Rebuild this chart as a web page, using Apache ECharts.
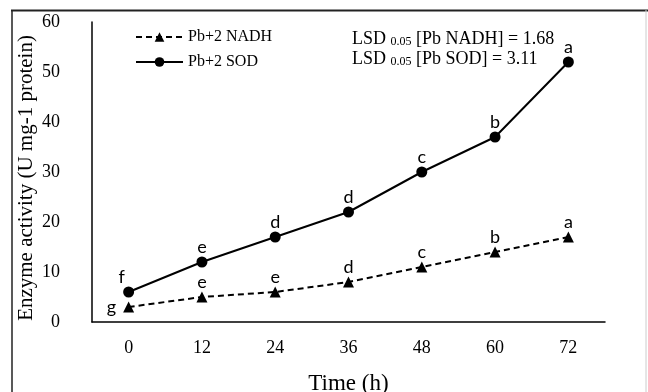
<!DOCTYPE html>
<html>
<head>
<meta charset="utf-8">
<script src="https://cdn.jsdelivr.net/npm/echarts@6/dist/echarts.min.js"></script>
<style>html,body{margin:0;padding:0;background:#fff;}#c{width:648px;height:392px;}</style>
</head>
<body>
<div id="c"></div>
<script>
var categories = ['0', '12', '24', '36', '48', '60', '72'];
var nadhValues = [3, 5, 6, 8, 11, 14, 17];
var sodValues = [6, 12, 17, 22, 30, 37, 52];
var nadhLetters = ['g', 'e', 'e', 'd', 'c', 'b', 'a'];
var sodLetters = ['f', 'e', 'd', 'd', 'c', 'b', 'a'];
var yTicks = [0, 10, 20, 30, 40, 50, 60];

var serif = '"Liberation Serif", "Times New Roman", serif';
var sans = 'Lato, "Open Sans", sans-serif';

function buildData(vals, letters, firstPos) {
  return vals.map(function (v, i) {
    var pos = (i === 0) ? firstPos : 'top';
    var lab = { show: true, formatter: letters[i], position: pos, distance: 0 };
    if (i === 0 && firstPos === 'top') lab.offset = [-7, 0];
    if (i === 0 && firstPos === 'left') lab.distance = 7;
    return { value: v, label: lab };
  });
}

var chart = echarts.init(document.getElementById('c'));
chart.setOption({
  animation: false,
  backgroundColor: '#fff',
  grid: { left: 92, right: 43, top: 22, bottom: 70, outerBoundsMode: 'none' },
  legend: {
    left: 130, top: 24, orient: 'vertical', itemGap: 9,
    itemWidth: 47, itemHeight: 12,
    textStyle: { fontFamily: serif, fontSize: 16, color: '#000' },
    data: ['Pb+2 NADH', 'Pb+2 SOD']
  },
  xAxis: {
    type: 'category', data: categories, boundaryGap: true,
    name: 'Time (h)', nameLocation: 'middle', nameGap: 50,
    nameTextStyle: { fontFamily: serif, fontSize: 23, color: '#000' },
    axisLine: { lineStyle: { color: '#000', width: 1.5 } },
    axisTick: { show: false },
    axisLabel: { fontFamily: serif, fontSize: 18, color: '#000', margin: 17 }
  },
  yAxis: {
    type: 'value', min: yTicks[0], max: yTicks[yTicks.length - 1], interval: 10,
    name: 'Enzyme activity (U mg-1 protein)', nameLocation: 'middle', nameGap: 55,
    nameMoveOverlap: false,
    nameTextStyle: { fontFamily: serif, fontSize: 21, color: '#000', padding: [0, 12, 0, 0] },
    axisLine: { show: true, lineStyle: { color: '#000', width: 1.5 } },
    axisTick: { show: false },
    splitLine: { show: false },
    axisLabel: { fontFamily: serif, fontSize: 18, color: '#000', margin: 32 }
  },
  series: [
    {
      name: 'Pb+2 NADH', type: 'line', data: buildData(nadhValues, nadhLetters, 'left'),
      symbol: 'triangle', symbolSize: 11,
      lineStyle: { color: '#000', width: 2, type: [6, 4] },
      itemStyle: { color: '#000' },
      label: { fontFamily: sans, fontSize: 18, color: '#000' }
    },
    {
      name: 'Pb+2 SOD', type: 'line', data: buildData(sodValues, sodLetters, 'top'),
      symbol: 'circle', symbolSize: 11,
      lineStyle: { color: '#000', width: 2 },
      itemStyle: { color: '#000' },
      label: { fontFamily: sans, fontSize: 18, color: '#000' }
    }
  ],
  graphic: [
    { type: 'line', shape: { x1: 11, y1: 10.5, x2: 648, y2: 10.5 }, style: { stroke: '#222', lineWidth: 2 } },
    { type: 'line', shape: { x1: 12, y1: 10, x2: 12, y2: 392 }, style: { stroke: '#222', lineWidth: 1.5 } },
    { type: 'line', shape: { x1: 646, y1: 10, x2: 646, y2: 392 }, style: { stroke: '#ccc', lineWidth: 1 } },
    {
      type: 'text', left: 352, top: 30,
      style: {
        text: '{m|LSD }{s|0.05}{m| [Pb NADH] = 1.68}\n{m|LSD }{s|0.05}{m| [Pb SOD] = 3.11}',
        rich: {
          m: { fontFamily: serif, fontSize: 18, fill: '#000', lineHeight: 20, verticalAlign: 'bottom' },
          s: { fontFamily: serif, fontSize: 12, fill: '#000', lineHeight: 16, verticalAlign: 'bottom' }
        }
      }
    }
  ]
});
</script>
</body>
</html>
